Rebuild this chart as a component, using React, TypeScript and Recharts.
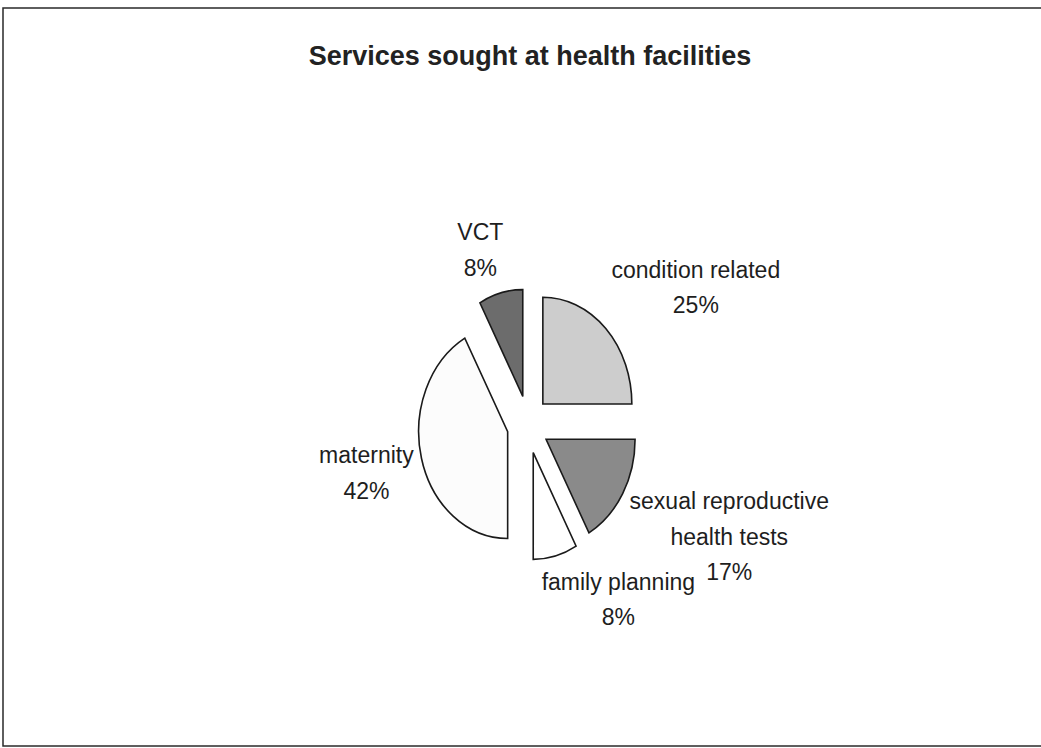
import React from 'react';
import { PieChart, Pie, Cell } from 'recharts';

// ---- data ----
const categories = [
  'condition related',
  'sexual reproductive health tests',
  'family planning',
  'maternity',
  'VCT',
];
const shares = [25, 17, 8, 42, 8];
const sliceColors = ['#cdcdcd', '#8a8a8a', '#ffffff', '#fcfcfc', '#6c6c6c'];
const chartTitle = 'Services sought at health facilities';

const data = categories.map((name, i) => ({ name, value: shares[i] }));

// ---- layout ----
const W = 1041;
const H = 748;
const CX = 528;
const CY = 424.5;
const RADIUS = 89;
const Y_STRETCH = 1.2;
const EXPLODE_X = 21;
const EXPLODE_Y = 29;
const LABEL_FONT = 23;
const LINE_H = 35.5;
const WRAP = 210;
const FONT_FAMILY = "'Liberation Sans', Arial, sans-serif";
const RAD = Math.PI / 180;

let ctx: CanvasRenderingContext2D | null = null;
function measure(t: string): number {
  if (!ctx) {
    const c = document.createElement('canvas');
    ctx = c.getContext('2d');
  }
  if (!ctx) return t.length * LABEL_FONT * 0.5;
  ctx.font = `${LABEL_FONT}px ${FONT_FAMILY}`;
  return ctx.measureText(t).width;
}

function wrapText(name: string): string[] {
  const words = name.split(' ');
  const lines: string[] = [];
  let cur = '';
  words.forEach((w) => {
    const test = cur ? cur + ' ' + w : w;
    if (cur && measure(test) > WRAP) {
      lines.push(cur);
      cur = w;
    } else {
      cur = test;
    }
  });
  if (cur) lines.push(cur);
  return lines;
}

const clamp = (v: number) => Math.max(0, Math.min(1, v));

function EllipseSector(props: any) {
  const { cx, cy, outerRadius, startAngle, endAngle, fill } = props;
  let a0 = 90 - startAngle;
  let a1 = 90 - endAngle;
  if (a1 < a0) [a0, a1] = [a1, a0];
  const mid = ((a0 + a1) / 2) * RAD;
  const ox = cx + EXPLODE_X * Math.sin(mid);
  const oy = cy - EXPLODE_Y * Math.cos(mid);
  const rx = outerRadius;
  const ry = outerRadius * Y_STRETCH;
  const pt = (deg: number) => [ox + rx * Math.sin(deg * RAD), oy - ry * Math.cos(deg * RAD)];
  const [x0, y0] = pt(a0);
  const [x1, y1] = pt(a1);
  const large = a1 - a0 > 180 ? 1 : 0;
  const d = `M${ox},${oy}L${x0},${y0}A${rx},${ry} 0 ${large} 1 ${x1},${y1}Z`;
  return <path d={d} fill={fill} stroke="#1a1a1a" strokeWidth={1.6} strokeLinejoin="miter" />;
}

function renderLabel(props: any) {
  const { cx, cy, midAngle, outerRadius, name, percent } = props;
  const t = (90 - midAngle) * RAD;
  const s = Math.sin(t);
  const c = Math.cos(t);
  const gap = 8;
  const ax = cx + (EXPLODE_X + outerRadius + gap) * s;
  const ay = cy - (EXPLODE_Y + outerRadius * Y_STRETCH + gap) * c;
  const lines = [...wrapText(name), `${Math.round(percent * 100)}%`];
  const w = Math.max(...lines.map(measure));
  const h = lines.length * LINE_H;
  const fx = clamp(0.5 - 1.6 * s);
  const fy = clamp(0.5 + 0.72 * c);
  const left = ax - fx * w;
  const top = ay - fy * h;
  const mx = left + w / 2;
  return (
    <g>
      {lines.map((ln, i) => (
        <text
          key={i}
          x={mx}
          y={top + 26 + i * LINE_H}
          textAnchor="middle"
          fontSize={LABEL_FONT}
          fontFamily={FONT_FAMILY}
          fill="#1e1e1e"
        >
          {ln}
        </text>
      ))}
    </g>
  );
}

export default function App() {
  return (
    <div style={{ position: 'absolute', left: 0, top: 0, width: W, height: H, background: '#fff' }}>
      <PieChart width={W} height={H} margin={{ top: 0, right: 0, bottom: 0, left: 0 }}>
        <rect x={3} y={8} width={1040} height={738} fill="#fff" stroke="#2a2a2a" strokeWidth={1.5} />
        <text
          x={530}
          y={65}
          textAnchor="middle"
          fontSize={27}
          fontWeight="bold"
          fontFamily={FONT_FAMILY}
          fill="#222"
        >
          {chartTitle}
        </text>
        <Pie
          data={data}
          dataKey="value"
          nameKey="name"
          cx={CX}
          cy={CY}
          outerRadius={RADIUS}
          startAngle={90}
          endAngle={-270}
          isAnimationActive={false}
          shape={EllipseSector}
          activeShape={EllipseSector}
          inactiveShape={EllipseSector}
          label={renderLabel}
          labelLine={false}
        >
          {data.map((d, i) => (
            <Cell key={d.name} fill={sliceColors[i]} />
          ))}
        </Pie>
      </PieChart>
    </div>
  );
}
